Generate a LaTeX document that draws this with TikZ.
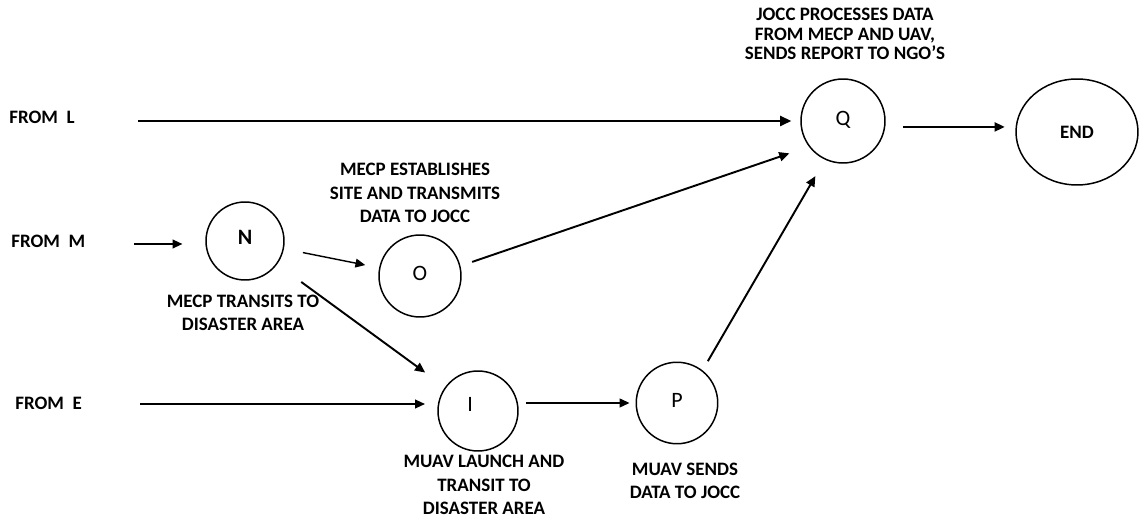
\documentclass[tikz,border=0pt]{standalone}
\usepackage{fontspec}
\setmainfont{Carlito}
\usetikzlibrary{arrows.meta,shapes.geometric}
\tikzset{
  state/.style={circle, draw, line width=0.85pt, inner sep=0pt, font=\fontsize{12.5}{14}\selectfont},
  endstate/.style={ellipse, draw, line width=0.85pt, inner sep=0pt, minimum width=2.44cm, minimum height=2.12cm, font=\bfseries\fontsize{10.8}{13}\selectfont},
  lbl/.style={align=center, inner sep=0pt, font=\bfseries\fontsize{10.8}{13.4}\selectfont},
  toplbl/.style={align=center, inner sep=0pt, font=\bfseries\fontsize{10.8}{11}\selectfont},
  from/.style={anchor=west, inner sep=0pt, font=\bfseries\fontsize{10.8}{13}\selectfont},
  thin arr/.style={-{Triangle[length=5.6pt,width=5pt]}, line width=0.8pt},
  mid arr/.style={-{Triangle[length=5.8pt,width=5.2pt]}, line width=1.1pt},
  thick arr/.style={-{Triangle[length=6.5pt,width=5.6pt]}, line width=1.5pt}
}
\begin{document}
\begin{tikzpicture}[x=0.02cm,y=-0.02cm]
\useasboundingbox (0,0) rectangle (1140,519);

% states
\node[state, minimum size=1.68cm] (Q) at (843,121) {\raisebox{2.5pt}{Q}};
\node[endstate] (END) at (1077,132) {END};
\node[state, minimum size=1.56cm] (N) at (245,241) {\raisebox{4pt}{\textbf{N}}};
\node[state, minimum size=1.64cm] (O) at (420,276) {\raisebox{2.5pt}{O}};
\node[state, minimum size=1.60cm] (I) at (478,411) {\raisebox{8pt}{I}\kern9pt};
\node[state, minimum size=1.63cm] (P) at (677,403) {\raisebox{2.5pt}{P}};

% side labels
\node[from] (fromL) at (9,117) {FROM~ L};
\node[from] (fromM) at (11,241) {FROM~ M};
\node[from] (fromE) at (15,403) {FROM~ E};
\coordinate (Ls) at (138,121);
\coordinate (Ms) at (134,244);
\coordinate (Es) at (140,404);

% descriptions
\node[toplbl] (tQ) at (845,34) {JOCC PROCESSES DATA\\FROM MECP AND UAV,\\SENDS REPORT TO NGO'S};
\node[lbl] (tO) at (415,193) {MECP ESTABLISHES\\SITE AND TRANSMITS\\DATA TO JOCC};
\node[lbl] (tN) at (243,313) {MECP TRANSITS TO\\DISASTER AREA};
\node[lbl] (tI) at (484,485) {MUAV LAUNCH AND\\TRANSIT TO\\DISASTER AREA};
\node[lbl] (tP) at (685,481) {MUAV SENDS\\DATA TO JOCC};

% connectors
\draw[thick arr, shorten >=5pt] (Ls) -- (Ls -| Q.west);
\draw[thin arr, shorten >=13pt] (Ms) -- (Ms -| N.west);
\draw[thin arr, shorten >=7pt] (Es) -- (Es -| I.west);
\draw[thin arr, shorten <=4pt, shorten >=3.4pt] (P.west -| I.east) -- (P.west);
\draw[thin arr, shorten <=11pt, shorten >=8pt] (N) -- (O);
\draw[mid arr, shorten <=17pt, shorten >=14pt] (N.-36) -- (I.144);
\draw[mid arr, shorten <=7pt, shorten >=11.7pt] (O.14) -- (Q.217);
\draw[mid arr, shorten <=6pt, shorten >=10.8pt] (P.52) -- (Q.245);
\draw[mid arr, shorten <=10pt, shorten >=6pt] (Q.-8) -- (Q.-8 -| END.west);
\end{tikzpicture}
\end{document}
